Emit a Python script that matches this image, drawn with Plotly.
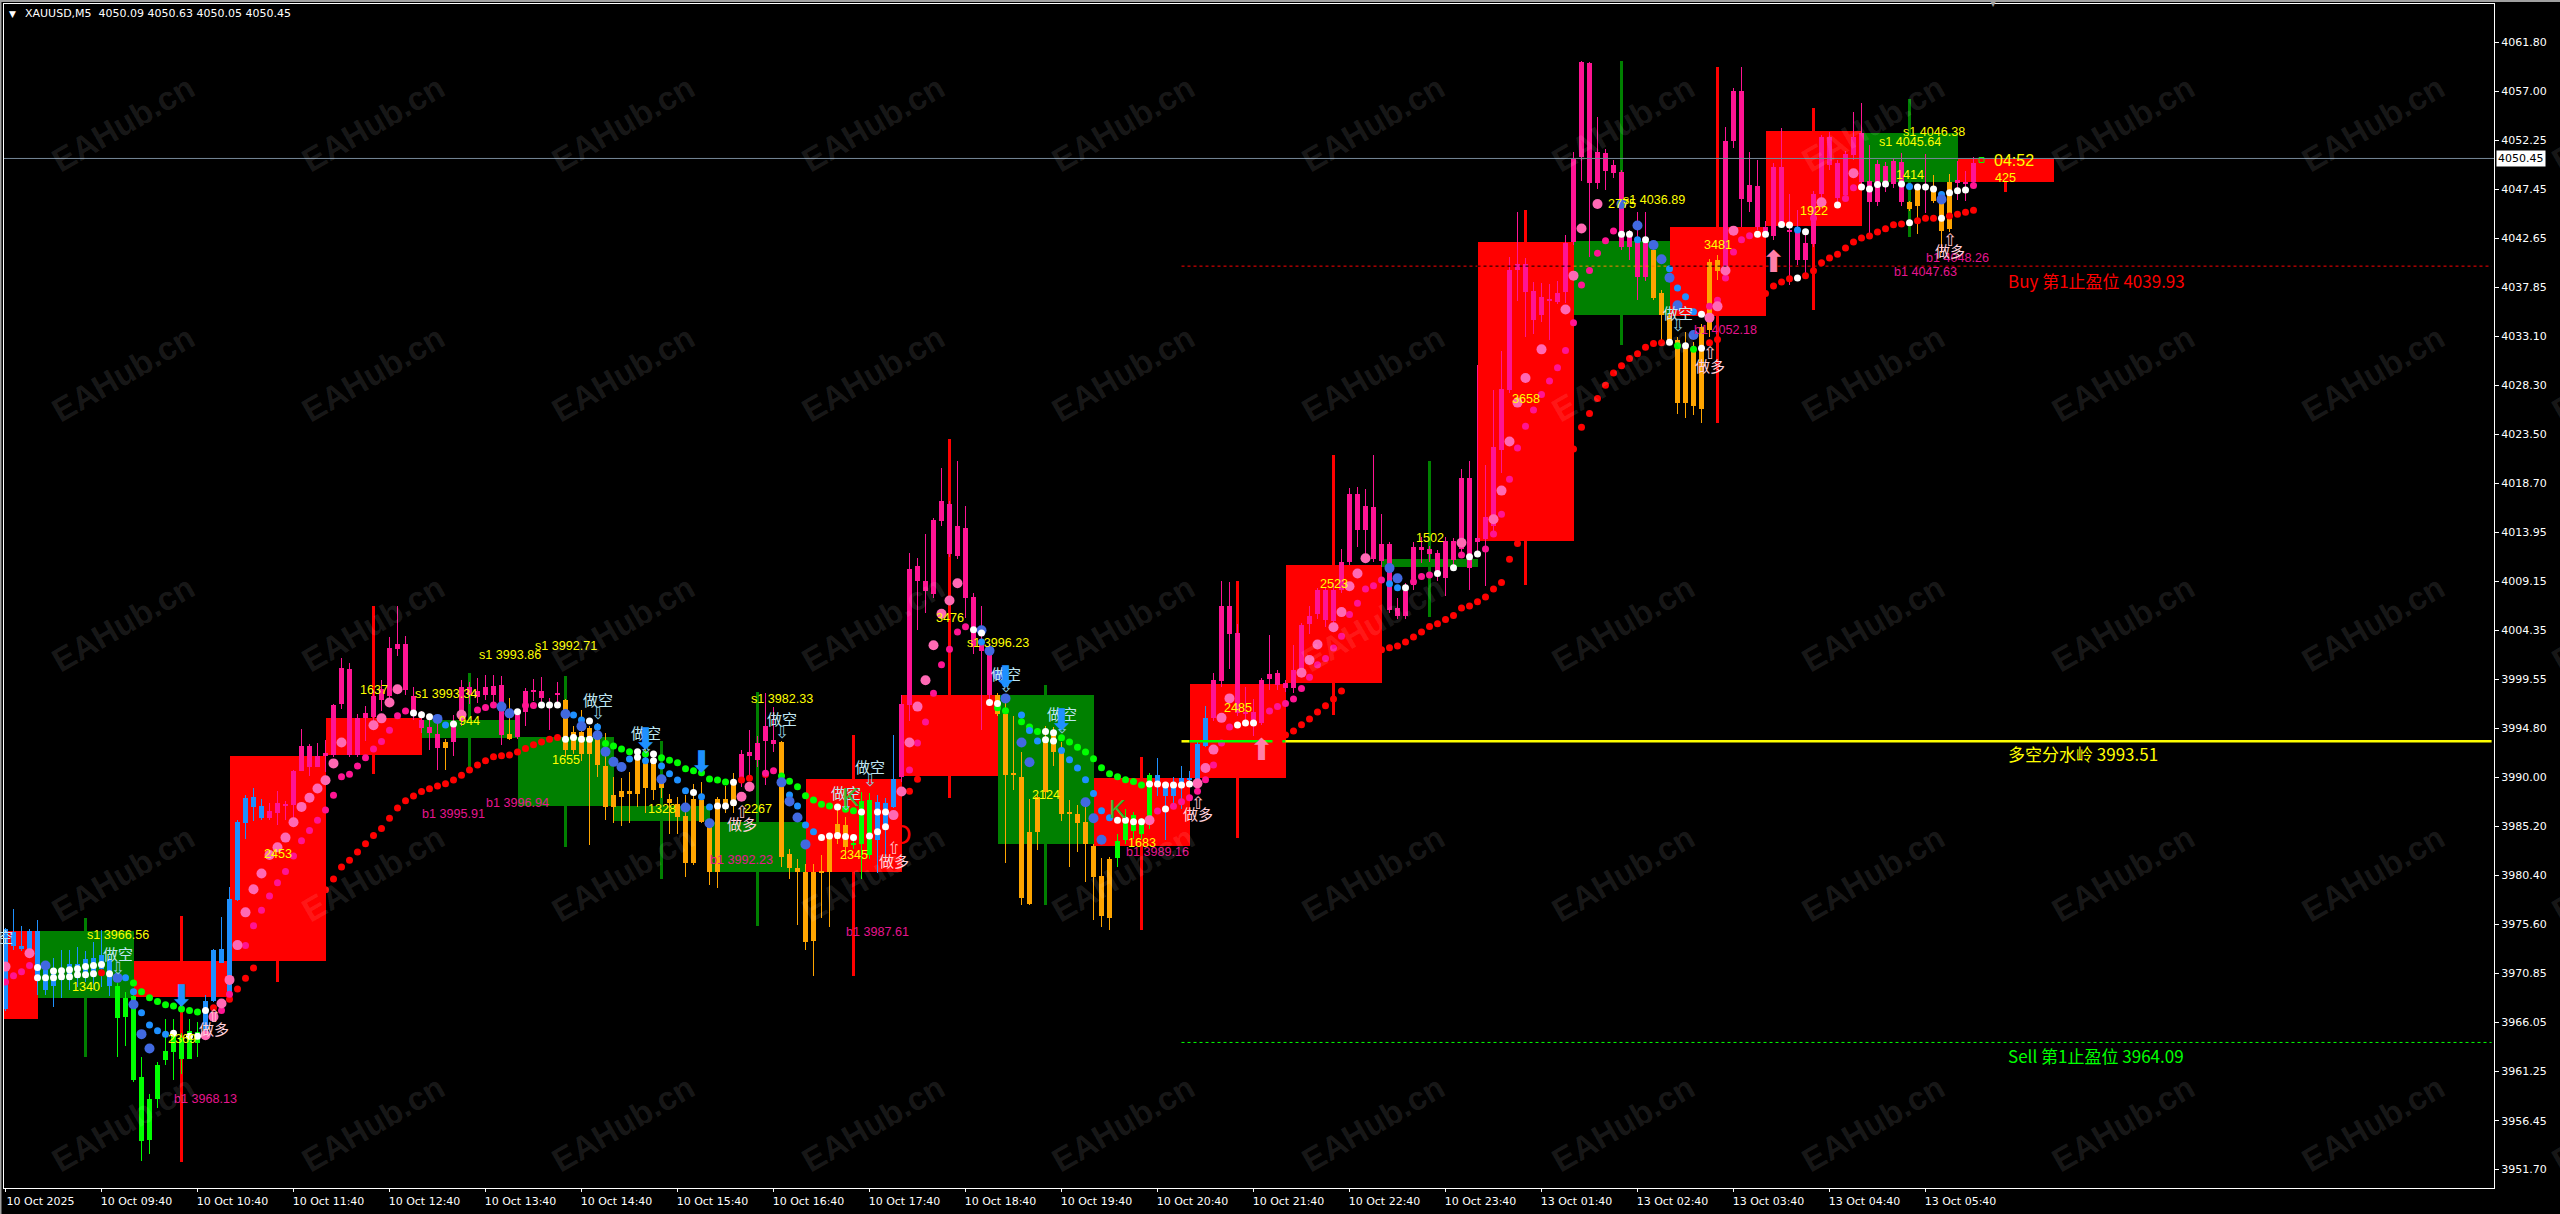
import plotly.graph_objects as go

# ---------- candles (bar index 0..246) ----------
body_top = [
3975.2,3974.9,3973.5,3975.0,3975.0,3971.2,3971.3,3971.3,3971.8,3971.8,
3972.2,3972.3,3972.6,3972.1,3969.6,3968.4,3968.6,3960.7,3958.6,3961.9,
3963.3,3965.1,3964.5,3965.2,3965.1,3968.1,3973.1,3973.2,3978.1,3985.6,
3988.0,3988.1,3987.2,3986.7,3987.5,3987.4,3990.6,3993.1,3993.1,3992.1,
3992.4,3997.05,4000.7,4000.6,3995.75,3996.25,3997.9,3998.6,4002.6,4003.0,
4003.0,3997.9,3995.6,3994.9,3994.2,3993.4,3994.9,3998.8,3998.85,3998.4,
3998.8,3998.9,3999.0,3994.2,3996.1,3998.45,3998.5,3998.45,3997.05,3998.2,
3997.5,3994.4,3994.4,3994.8,3994.1,3991.1,3988.25,3988.65,3988.65,3992.0,
3991.7,3991.5,3989.4,3987.9,3987.4,3986.2,3987.9,3987.8,3985.15,3987.9,
3987.9,3989.2,3992.3,3992.5,3993.3,3995.0,3993.6,3993.4,3982.5,3981.1,
3980.75,3980.75,3980.75,3984.2,3985.4,3985.35,3983.5,3987.7,3987.8,3987.6,
3987.5,3989.8,3997.15,4010.3,4010.6,4009.2,4015.15,4017.0,4016.65,4014.55,
4014.35,4007.65,4003.0,4002.4,3998.0,3996.2,3990.35,3990.0,3984.65,3988.05,
3993.6,3994.3,3992.45,3986.5,3986.4,3985.65,3983.25,3980.35,3982.0,3983.8,
3985.9,3986.3,3985.5,3990.2,3990.2,3989.2,3989.15,3989.9,3989.9,3993.2,
3995.8,3999.5,4006.7,4006.7,4004.1,3996.3,3996.4,3999.5,4000.1,4000.15,
3999.2,4000.5,4004.9,4005.8,4008.25,4008.3,4008.25,4011.0,4017.67,4017.67,
4016.5,4016.4,4012.8,4012.8,4006.55,4008.2,4012.45,4012.45,4012.3,4011.9,
4013.06,4013.1,4019.2,4019.2,4013.4,4015.4,4022.3,4027.9,4039.6,4040.1,
4040.1,4037.5,4036.9,4036.7,4037.3,4042.2,4050.4,4059.9,4059.75,4051.1,
4051.0,4049.8,4049.1,4042.8,4042.74,4042.5,4041.5,4037.26,4035.1,4032.7,
4032.4,4032.05,4034.0,4040.36,4040.5,4052.15,4057.0,4057.0,4047.85,4047.75,
4043.8,4049.65,4049.65,4043.45,4043.5,4042.15,4047.0,4052.5,4052.5,4049.97,
4050.85,4052.57,4052.9,4048.27,4049.9,4049.74,4050.2,4050.1,4046.2,4047.46,
4047.85,4047.46,4046.4,4048.18,4048.34,4048.18,4049.97]
body_bottom = [
3967.4,3973.55,3973.2,3973.1,3970.35,3969.2,3969.6,3970.2,3970.2,3970.35,
3970.8,3970.8,3971.3,3969.6,3966.5,3966.6,3960.4,3954.5,3954.6,3958.6,
3962.4,3963.2,3962.5,3962.5,3964.0,3965.0,3968.1,3971.9,3968.4,3978.0,
3985.5,3987.1,3986.0,3986.0,3986.5,3987.2,3987.3,3990.6,3991.0,3991.0,
3992.1,3992.2,3997.2,3992.2,3992.2,3995.75,3995.9,3997.55,3997.9,4002.5,
3998.5,3996.15,3994.85,3994.3,3992.9,3992.9,3993.4,3995.5,3998.05,3997.8,
3998.05,3998.05,3994.1,3993.75,3993.9,3996.4,3998.35,3997.7,3996.95,3998.0,
3992.65,3992.65,3992.3,3992.3,3991.2,3987.1,3987.1,3988.05,3988.4,3988.4,
3988.9,3988.75,3988.9,3987.45,3986.15,3981.65,3981.6,3985.65,3980.75,3980.75,
3987.0,3987.2,3989.4,3992.1,3991.7,3993.5,3993.25,3982.25,3981.1,3980.7,
3973.9,3974.0,3980.65,3980.75,3984.0,3983.2,3983.4,3983.5,3982.4,3983.9,
3985.4,3987.05,3990.05,3997.1,4009.2,4008.15,4007.9,4015.05,4011.8,4011.6,
4007.5,4002.7,4002.35,3998.0,3996.2,3990.25,3990.25,3978.25,3977.65,3984.65,
3988.55,3992.5,3986.45,3986.45,3985.55,3983.45,3980.25,3976.4,3976.2,3982.1,
3983.9,3984.7,3984.5,3985.5,3989.1,3988.2,3988.2,3989.1,3989.75,3989.25,
3993.1,3995.8,3999.4,4003.95,3996.3,3996.2,3995.3,3995.3,3999.6,3999.0,
3998.75,3998.7,4000.5,4005.0,4005.96,4005.4,4005.3,4008.25,4011.0,4014.14,
4014.2,4011.3,4011.1,4006.3,4005.8,4005.8,4008.75,4012.2,4011.85,4009.76,
4009.5,4011.2,4012.3,4010.44,4013.0,4013.3,4014.5,4022.0,4027.8,4039.6,
4037.4,4034.7,4035.2,4036.55,4036.45,4037.4,4042.3,4050.55,4048.1,4048.1,
4049.2,4049.06,4041.8,4041.8,4038.9,4038.9,4036.8,4035.15,4032.5,4026.6,
4026.6,4026.25,4026.0,4033.7,4039.5,4039.87,4052.15,4046.5,4046.2,4043.8,
4043.3,4042.9,4044.2,4043.3,4040.5,4040.5,4042.1,4047.0,4049.8,4046.6,
4046.87,4050.8,4048.18,4046.2,4046.2,4048.18,4048.0,4046.2,4045.5,4045.8,
4047.7,4046.3,4043.4,4043.55,4048.1,4048.0,4048.18]
candle_high = [
3975.3,3977.1,3975.5,3975.2,3976.05,3971.8,3972.3,3973.1,3973.1,3973.45,
3973.05,3973.9,3975.1,3972.5,3969.9,3969.0,3968.8,3962.7,3959.1,3962.2,
3966.4,3966.4,3965.0,3966.4,3966.1,3968.7,3973.2,3976.3,3979.25,3985.8,
3988.3,3988.9,3987.9,3987.5,3988.7,3987.7,3990.7,3994.7,3993.2,3993.3,
3993.6,3997.2,4001.6,4001.2,3996.2,3997.0,3998.5,3999.5,4003.7,4006.7,
4003.8,3998.8,3996.5,3995.9,3995.25,3993.7,3996.1,3999.5,3999.3,3999.7,
4000.0,4000.0,3999.9,3997.7,3996.3,3998.7,3999.6,3999.8,3997.7,3999.3,
3997.6,3995.0,3996.6,3995.0,3995.25,3994.3,3990.0,3989.9,3990.55,3992.8,
3993.0,3992.0,3990.0,3988.4,3988.1,3988.25,3989.3,3989.55,3985.8,3988.1,
3989.15,3990.4,3992.65,3994.6,3994.0,3998.2,3996.9,3993.5,3983.0,3982.0,
3981.5,3981.5,3982.4,3984.4,3986.8,3986.1,3984.0,3988.6,3988.5,3988.3,
3988.0,3994.1,3998.0,4011.95,4011.45,4013.8,4015.3,4020.2,4017.0,4020.85,
4016.5,4008.0,4006.7,4003.0,3998.2,3997.8,3996.0,3992.45,3987.9,3988.3,
3995.0,3994.95,3993.45,3987.8,3987.3,3987.05,3983.5,3982.1,3982.2,3984.5,
3986.9,3986.6,3986.0,3990.4,3991.9,3989.5,3990.0,3991.1,3990.6,3993.4,
3997.0,4000.2,4009.2,4009.1,4005.0,3998.8,3997.65,3999.7,4003.9,4000.5,
3999.5,4002.9,4005.1,4006.7,4008.5,4008.6,4009.0,4012.3,4018.3,4018.34,
4018.2,4021.44,4015.75,4012.95,4007.5,4009.0,4013.0,4013.46,4012.6,4012.2,
4013.5,4013.4,4020.1,4020.9,4030.3,4020.5,4027.8,4031.6,4040.85,4045.2,
4040.7,4038.4,4038.3,4038.2,4038.5,4042.97,4051.1,4060.0,4059.9,4054.46,
4051.4,4050.3,4049.3,4043.5,4045.2,4045.2,4042.0,4037.6,4035.3,4033.0,
4033.45,4032.5,4034.3,4040.6,4041.0,4053.5,4057.3,4059.35,4051.1,4050.3,
4044.3,4050.0,4053.4,4047.0,4045.4,4043.3,4047.3,4052.7,4053.0,4050.3,
4051.2,4055.0,4055.9,4051.8,4050.3,4050.1,4050.5,4051.0,4046.3,4047.8,
4050.9,4048.8,4046.6,4048.9,4050.2,4049.2,4050.63]
candle_low = [
3967.2,3973.1,3973.06,3972.4,3968.7,3968.7,3967.6,3968.4,3969.2,3969.5,
3970.0,3969.2,3969.5,3968.6,3962.7,3963.7,3960.2,3952.5,3953.2,3957.65,
3961.9,3960.4,3961.0,3962.5,3962.7,3964.65,3968.0,3971.9,3968.4,3977.9,
3984.0,3985.7,3985.8,3985.8,3985.3,3985.8,3985.8,3990.6,3990.1,3991.0,
3990.5,3992.0,3996.7,3992.0,3992.0,3993.5,3995.5,3996.5,3997.5,4001.8,
3998.0,3995.6,3994.3,3992.65,3990.7,3990.7,3992.1,3995.0,3997.2,3997.3,
3997.5,3997.0,3993.15,3993.6,3993.7,3995.0,3997.4,3997.2,3994.6,3997.05,
3992.0,3992.3,3991.6,3983.4,3990.05,3985.8,3985.5,3985.2,3985.5,3987.1,
3986.5,3987.8,3988.0,3984.5,3984.5,3980.25,3981.4,3985.5,3979.45,3979.15,
3986.5,3986.5,3989.0,3989.7,3991.0,3989.25,3992.5,3981.25,3980.1,3975.55,
3973.1,3970.6,3976.2,3975.4,3983.5,3982.0,3983.0,3980.1,3982.0,3980.6,
3982.0,3987.0,3989.5,3995.5,4004.4,4006.05,4007.5,4014.5,4011.5,4011.3,
4005.55,4002.0,3994.6,3997.5,3996.0,3981.6,3988.75,3977.55,3977.5,3982.9,
3988.0,3991.1,3985.7,3981.2,3982.7,3979.8,3976.1,3975.4,3975.1,3981.2,
3983.5,3984.0,3984.0,3984.9,3988.2,3983.9,3987.5,3986.9,3989.0,3988.7,
3993.0,3995.5,3998.8,4000.6,3996.0,3995.5,3994.0,3995.1,3998.5,3998.5,
3998.3,3998.2,4000.0,4004.0,4005.5,4004.7,4005.0,4008.0,4010.7,4012.45,
4011.45,4011.0,4010.5,4006.0,4005.5,4005.5,4008.3,4010.9,4011.0,4009.2,
4007.7,4010.5,4012.0,4008.3,4012.0,4008.65,4013.9,4019.7,4027.5,4036.55,
4033.0,4033.35,4034.5,4032.7,4036.2,4036.3,4042.0,4048.2,4040.85,4047.5,
4047.36,4048.5,4041.5,4040.5,4036.6,4038.5,4036.6,4032.7,4032.3,4025.5,
4025.1,4025.4,4024.56,4033.0,4038.6,4039.5,4051.5,4043.8,4045.2,4043.5,
4042.8,4042.5,4044.0,4038.1,4040.0,4039.2,4041.8,4046.5,4049.3,4046.2,
4046.4,4050.3,4047.8,4043.1,4045.8,4047.2,4047.6,4045.8,4045.3,4043.1,
4045.1,4046.1,4041.2,4043.3,4046.4,4046.3,4048.0]
candle_runs = [(0,13,"blue"),(14,24,"lime"),(25,32,"blue"),(33,54,"pink"),(55,55,"orange"),
               (56,62,"pink"),(63,63,"orange"),(64,69,"pink"),(70,91,"orange"),(92,96,"pink"),
               (97,105,"orange"),(106,108,"lime"),(109,111,"blue"),(112,123,"pink"),
               (124,138,"orange"),(139,143,"lime"),(144,150,"blue"),(151,205,"pink"),
               (206,214,"orange"),(215,237,"pink"),(238,239,"orange"),(240,240,"pink"),
               (241,243,"orange"),(244,246,"pink")]
candle_palette = {"blue":"#1E90FF","lime":"#00FF00","pink":"#FF1493","orange":"#FFA500"}

# ---------- hourly blocks ----------
block_start = list(range(-8, 245, 12))
block_top = [3974.98,3974.98,3972.05,3992.08,3995.75,3995.59,3993.9,3987.18,3985.62,3989.79,3998.03,
             3998.02,3989.9,3999.1,4010.7,4011.28,4042.28,4042.38,4043.75,4053.13,4052.93,4050.4]
block_bottom = [3966.38,3968.46,3968.53,3972.05,3992.17,3993.86,3987.18,3985.72,3980.74,3980.74,3990.15,
                3983.49,3983.29,3989.9,3999.2,4010.54,4013.1,4035.15,4035.08,4043.88,4048.14,4048.14]
block_color = ["r","g","r","r","r","g","g","g","g","r","r","g","r","r","r","g","r","g","r","r","g","r"]
block_high = [3975.0,3976.2,3976.4,3992.1,4006.7,4000.15,3999.9,3993.5,3998.3,3994.1,4023.0,
              3999.0,3992.0,4009.2,4021.5,4020.9,4045.4,4060.0,4059.4,4055.4,4056.3,4050.4]
block_low = [3966.4,3962.7,3952.4,3970.0,3990.3,3990.7,3983.2,3980.1,3975.5,3970.6,3988.0,
             3977.5,3975.1,3984.1,3996.1,4005.7,4008.8,4032.2,4024.6,4035.6,4042.8,4047.2]

# ---------- indicator dots ----------
red_idx = [12,26,28,29,30,31,40,41,42,43,44,45,46,47,48,49,50,51,52,53,54,55,56,57,58,59,60,61,62,63,64,65,66,67,68,69,
           92,93,95,113,114,160,161,162,163,164,165,166,167,172,173,174,175,176,177,178,179,180,181,182,183,184,185,186,187,
           188,189,196,197,198,199,200,201,202,203,204,205,206,207,213,214,220,221,222,223,225,226,227,228,229,230,231,232,
           233,234,235,236,237,239,240,241,243,244,245,246]
red_price = [3970.9,3967.48,3968.3,3969.3,3970.35,3971.37,3979,3980.06,3981.23,3981.9,3982.7,3983.5,3984.3,3985,3986,3987,
             3987.7,3988.17,3988.6,3988.87,3989.14,3989.37,3989.73,3990.2,3990.7,3991.2,3991.6,3992,3992.1,3992.17,3992.47,
             3992.8,3993.17,3993.44,3993.7,3993.87,3989.73,3989.9,3990.27,3988.64,3989.8,3994.12,3994.52,3995.13,3995.7,
             3996.37,3996.98,3997.65,3998.43,4002.46,4002.66,4002.83,4003.2,4003.7,4004.2,4004.72,4005,4005.4,4005.8,
             4006.53,4006.73,4007.14,4007.6,4008.4,4009.02,4011.3,4012.84,4022.06,4024.2,4025.54,4027,4028.3,4029.5,4030.2,
             4030.9,4031.37,4032,4032.38,4032.44,4032.44,4032.77,4037.26,4038,4038.37,4038.7,4039,4039.48,4040.26,4040.72,
             4041.1,4041.7,4042.28,4042.67,4042.87,4043.26,4043.58,4043.97,4044.04,4044.37,4044.6,4044.6,4044.82,4045,
             4045.2,4045.4]
deeppink_idx = [0,1,2,3,27,28,30,31,32,33,34,35,36,37,38,39,40,41,42,43,44,45,46,47,48,49,50,59,60,61,65,66,95,96,113,114,
                115,116,117,118,119,120,144,146,147,148,149,150,151,152,153,158,159,160,161,162,163,164,165,166,167,168,169,
                170,171,172,176,177,178,182,185,186,187,188,189,190,191,192,193,194,195,196,197,198,199,200,201,213,214,215,
                216,217,218,226,230,231,246]
deeppink_price = [3970,3970.6,3971,3971.6,3967.2,3968.8,3973.55,3975.5,3977,3978.4,3979.7,3980.8,3982.3,3983.8,3984.8,3985.8,
                  3986.8,3988.25,3990.05,3990.3,3991.1,3991.9,3992.75,3993.5,3994.6,3996,3996.47,3996.57,3996.8,3997.05,
                  3997,3997,3990.4,3990.64,3990.7,3993.35,3995.4,3998.2,4001,4002.5,4004.2,4004.7,3986.7,3987.16,3987.6,3988,
                  3988.64,3989.75,3991.2,3993.35,3994.9,3996.47,3996.9,3997.2,3997.65,3998.66,3999.77,4001,4001.6,4002.63,
                  4003.77,4005.9,4007,4008.4,4008.7,4009.26,4009.1,4009.6,4009.76,4011.7,4012.3,4013.75,4015.7,4019.1,4022.16,
                  4024.3,4025.87,4027.4,4028.7,4030,4031.7,4034.4,4038.1,4039.5,4041.2,4042.4,4043.36,4036,4036.6,4038.76,
                  4041.3,4042.5,4042.9,4044.6,4046.55,4047.6,4047.8]
lime_idx = [16,17,18,19,20,21,22,23,24,75,76,77,78,80,82,83,84,85,86,87,88,89,90,97,98,99,100,101,102,103,105,106,124,125,
            127,128,129,132,133,134,135,136,137,138,139,140,141,142,209,211]
lime_price = [3969.9,3969.05,3968.46,3968.08,3967.78,3967.65,3967.36,3967.2,3967.06,3993.3,3993.05,3992.76,3992.5,3992.27,
              3991.9,3991.67,3991.42,3990.83,3990.64,3990.44,3989.82,3989.73,3989.53,3990.12,3989.6,3989.07,3988.2,3987.77,
              3987.37,3987.2,3986.87,3986.73,3996.78,3996.5,3995.43,3994.9,3994.46,3993.85,3993.45,3992.94,3992.47,3991.8,
              3990.92,3990.35,3990.05,3989.75,3989.58,3989.24,4032.15,4031.82]
blue_idx = [15,16,17,18,19,20,55,71,72,74,78,80,82,83,84,85,87,88,98,99,100,101,122,125,127,128,129,132,133,134,135,136,137,
            138,173,174,204,208,209,210,211,224,238,242]
blue_price = [3970.4,3969.05,3967,3965.8,3965.24,3964.9,3995.1,3996.07,3995.6,3994.9,3991.77,3991.6,3991.1,3990.34,3989.73,
              3988.67,3988.1,3987.1,3988.27,3987.2,3985.33,3984.67,4003.2,3999.13,3996.07,3994.56,3993.55,3992.6,3991.7,
              3990.9,3989.75,3988.4,3986.72,3986.05,4008.9,4008.5,4042.5,4039.67,4037.8,4036.94,4035.47,4043.45,4047.7,4046.94]
hotpink_idx = [0,3,25,26,27,28,29,30,31,32,33,34,35,36,37,38,39,40,41,42,46,47,48,49,57,92,93,111,112,113,114,115,116,117,118,
               119,143,149,150,151,152,153,162,163,164,166,167,168,169,170,182,186,187,188,189,190,192,195,196,197,199,213,
               214,215,216,227,231]
hotpink_price = [3971.5,3972.8,3964.8,3966.6,3967.9,3970.2,3973.6,3976.8,3979.05,3980.6,3982.4,3983.15,3984.1,3985.6,3987.1,
                 3988,3988.9,3989.7,3991.35,3993.4,3995.07,3995.75,3997.3,3998.6,3996.1,3988.1,3989.07,3986.3,3988.6,3993.4,
                 3996.9,3999.47,4002.9,4005.96,4007.27,4008.95,3985.8,3989.4,3990.9,3992.7,3995.8,3997.7,4000.2,4001.45,
                 4002.97,4004.65,4006.13,4008.65,4009.9,4011.4,4012.9,4015.2,4018,4022.8,4026.6,4029,4031.8,4035.7,4039,
                 4043.6,4046,4034.9,4036,4039.5,4043.4,4046.16,4049]
royal_idx = [5,14,16,17,18,54,62,63,70,72,74,75,76,77,82,85,88,97,98,99,100,122,123,124,125,127,128,135,136,137,173,174,202,
             204,206,207,208,209,211,242]
royal_price = [3971.6,3970.4,3967.8,3964.9,3963.5,3995.7,3996.9,3996.24,3996.17,3994.97,3994.1,3992.5,3991.5,3991,3989.8,
               3987.05,3985.5,3989.5,3987.64,3986.07,3983.44,4004.35,4002.36,4000,3997.7,3993.4,3991.46,3987.56,3986,3983.9,
               4010.43,4009.43,4046,4043.9,4042,4040.6,4038.8,4036.1,4033.2,4046.45]
white_idx = [4,6,7,8,9,10,11,12,4,5,6,7,8,9,10,11,13,21,23,24,25,51,52,53,56,64,67,68,69,70,71,72,73,73,79,79,81,81,86,89,90,
             91,91,102,103,104,105,106,104,107,108,109,110,110,109,121,122,123,124,130,131,130,131,139,140,141,142,143,144,
             145,146,147,148,145,154,155,156,175,179,181,183,184,202,203,205,208,210,212,212,219,220,222,223,224,225,229,
             232,233,234,235,237,239,240,241,243,244,245,238,242]
white_price = [3971.4,3971.07,3971.1,3971.2,3971.3,3971.5,3971.6,3971.7,3970.4,3970.4,3970.4,3970.5,3970.5,3970.7,3970.7,
               3970.8,3970.8,3965,3964.7,3964.7,3967.2,3996.27,3996.1,3995.9,3995.2,3996.4,3997.05,3997.05,3997.05,3993.7,
               3993.87,3993.7,3993.7,3995.5,3992.5,3991.94,3992.27,3991.6,3988.5,3987.2,3987.2,3989.5,3987.5,3984.1,3984.25,
               3984.3,3984.2,3984.1,3987.1,3986.6,3984.25,3986.6,3986.6,3985.17,3984.67,4004.4,4004.1,3997.3,3997.2,3994.46,
               3994.35,3993.65,3993.55,3985.8,3985.8,3985.64,3985.64,3989.34,3989.34,3989.24,3989.24,3989.24,3989.34,3986.9,
               3995.1,3995.3,3995.3,4008.5,4009.9,4010.47,4011.54,4011.8,4043.05,4043.05,4042.5,4032.5,4032.15,4035.24,
               4031.9,4043.05,4043.05,4044,4043.94,4038.76,4043.3,4045.9,4047.66,4047.46,4047.9,4047.95,4047.95,4047.66,
               4047.66,4047.46,4047.1,4047.3,4047.36,4044.17,4044.62]

# ---------- text ----------
yellow_text = ["s1 3966.56","1340","2453","2369","1637","s1 3993.34","944","s1 3993.86","s1 3992.71","1655","1328","2267",
               "s1 3982.33","2345","3476","s1 3996.23","2124","1683","2485","2523","1502","3658","2775","s1 4036.89","3481",
               "1922","s1 4045.64","s1 4046.38","1414","425"]
yellow_idx = [14,10,34,22,46,55,58,63,70,70,82,94,97,106,118,124,130,142,154,166,178,190,202,206,214,226,238,241,238,250]
yellow_price = [3974.6,3969.5,3982.5,3964.4,3998.5,3998.1,3995.5,4001.9,4002.8,3991.7,3986.9,3986.9,3997.64,3982.4,4005.56,
                4003.1,3988.27,3983.6,3996.74,4008.86,4013.36,4027,4046,4046.35,4042,4045.3,4052.1,4053,4048.8,4048.5]
b1_text = ["b1 3968.13","b1 3995.91","b1 3996.94","b1 3992.23","b1 3987.61","b1 3989.16","b1 4052.18","b1 4047.63","b1 4048.26"]
b1_idx = [25,56,64,92,109,144,215,240,244]
b1_price = [3958.57,3986.37,3987.5,3981.9,3974.84,3982.7,4033.7,4039.35,4040.7]
short_idx = [14,74,80,97,108,105,125,132,209]
short_price = [3972.8,3997.6,3994.4,3995.75,3991,3988.5,4000.1,3996.24,4035.4]
short_arrow_price = [3971.4,3996.3,3993,3994.45,3989.7,3987.4,3998.9,3994.9,4034.17]
long_idx = [26,92,111,149,213,243]
long_price = [3965.47,3985.5,3981.84,3986.45,4030.26,4041.5]
long_arrow_price = [3966.67,3986.63,3983.1,3987.5,4031.4,4042.5]
down_arrow_idx = [22,80,87,125,132]
down_arrow_price = [3968.7,3993.8,3991.5,3999.84,3995.63]
up_arrow_idx = [157,221]
up_arrow_price = [3992.7,4040.36]
level_labels = ["Buy 第1止盈位 4039.93","多空分水岭 3993.51","Sell 第1止盈位 3964.09"]
level_label_price = [4038.57,3992.3,3962.77]
level_values = [4039.93,3993.51,3964.09]
current_price = 4050.45
header = "XAUUSD,M5  4050.09 4050.63 4050.05 4050.45"
x_labels = ["10 Oct 2025","10 Oct 09:40","10 Oct 10:40","10 Oct 11:40","10 Oct 12:40","10 Oct 13:40","10 Oct 14:40",
            "10 Oct 15:40","10 Oct 16:40","10 Oct 17:40","10 Oct 18:40","10 Oct 19:40","10 Oct 20:40","10 Oct 21:40",
            "10 Oct 22:40","10 Oct 23:40","13 Oct 01:40","13 Oct 02:40","13 Oct 03:40","13 Oct 04:40","13 Oct 05:40"]
y_ticks = [4061.80,4057.00,4052.25,4047.45,4042.65,4037.85,4033.10,4028.30,4023.50,4018.70,4013.95,4009.15,4004.35,3999.55,
           3994.80,3990.00,3985.20,3980.40,3975.60,3970.85,3966.05,3961.25,3956.45,3951.70]

# ---------- figure ----------
W,H = 2560,1214
L,R,T,B = 4,66,4,26
plot_w, plot_h = W-L-R, H-T-B
idx = list(range(247))
colors = [None]*247
for a,b,c in candle_runs:
    for i in range(a,b+1):
        colors[i] = candle_palette[c]
fig = go.Figure()
RED,GREEN = "#FF0000","#008000"
bc = [RED if c=="r" else GREEN for c in block_color]
# hourly block bodies and wicks
fig.add_trace(go.Bar(x=[k+6 for k in block_start],
                     y=[t-b for t,b in zip(block_top,block_bottom)], base=block_bottom,
                     width=12, marker=dict(color=bc,line_width=0)))
fig.add_trace(go.Bar(x=[k+6 for k in block_start],
                     y=[t-b for t,b in zip(block_high,block_low)], base=block_low,
                     width=0.375, marker=dict(color=bc,line_width=0)))
# candles
fig.add_trace(go.Bar(x=idx, y=[max(h-l,0.1) for h,l in zip(candle_high,candle_low)], base=candle_low,
                     width=0.125, marker=dict(color=colors,line_width=0)))
fig.add_trace(go.Bar(x=idx, y=[max(t-b,0.1) for t,b in zip(body_top,body_bottom)], base=body_bottom,
                     width=0.625, marker=dict(color=colors,line_width=0)))
# dots
for xs,ys,c,s in [(red_idx,red_price,RED,7),(deeppink_idx,deeppink_price,"#FF1493",7),(lime_idx,lime_price,"#00FF00",7),
                  (blue_idx,blue_price,"#1E90FF",7),(hotpink_idx,hotpink_price,"#FF69B4",10),(royal_idx,royal_price,"#4169E1",10),
                  (white_idx,white_price,"#FFFFFF",7)]:
    fig.add_trace(go.Scatter(x=xs,y=ys,mode="markers",marker=dict(color=c,size=s,line_width=0)))
# last-bar marker
fig.add_trace(go.Scatter(x=[247],y=[4050.3],mode="markers",
                         marker=dict(symbol="square-open",color="#00FF00",size=5,line_width=1)))

x0,x1 = -0.1875, 311.0625
def hline(a,b,y,color,width=1,dash="solid"):
    fig.add_shape(type="line",xref="x",yref="y",x0=a,x1=b,y0=y,y1=y,line=dict(color=color,width=width,dash=dash),layer="above")
hline(x0,x1,current_price,"#778899",1)
buy,mid,sell = level_values
d = "3px,3px"
hline(147,184,buy,RED,1,d); hline(184,196,buy,"#000000",1,d); hline(196,208,buy,"#FF8000",1,d)
hline(208,220,buy,"#000000",1,d); hline(220,x1-0.3,buy,RED,1,d)
hline(147,148,mid,"#FFFF00",2.5); hline(148,158.4,mid,"#00FF00",2.5); hline(158.4,159.6,mid,"#FF0000",2.5)
hline(159.6,160,mid,"#00FF00",2.5); hline(160,x1-0.3,mid,"#FFFF00",2.5)
hline(147,x1-0.3,sell,"#00FF00",1,d)

ann = []
def text(x,y,s,color,size,family="Liberation Sans",**kw):
    kw.setdefault("xanchor","center")
    ann.append(dict(x=x,y=y,xref="x",yref="y",text=s,showarrow=False,yanchor="middle",font=dict(color=color,size=size,family=family),**kw))
for s,x,y in zip(yellow_text,yellow_idx,yellow_price):
    text(x,y,s,"#FFFF00",12.6)
for s,x,y in zip(b1_text,b1_idx,b1_price):
    text(x,y,s,"#E6158F",12.6)
CJK = "Noto Sans CJK SC"
for x,y,ya in zip(short_idx,short_price,short_arrow_price):
    text(x,y,"做空","#BFE6F2",15,CJK)
    text(x,ya,"⇩","#8FC7DE",17,"DejaVu Sans")
for x,y,ya in zip(long_idx,long_price,long_arrow_price):
    text(x,y,"做多","#FFD0DC",15,CJK)
    text(x,ya,"⇧","#FFC0CB",17,"DejaVu Sans")
text(0,3974.4,"空","#BFE6F2",15,CJK)
for x,y in zip(down_arrow_idx,down_arrow_price):
    text(x,y,"⬇","#1E90FF",30,"DejaVu Sans")
for x,y in zip(up_arrow_idx,up_arrow_price):
    text(x,y,"⬆","#FF7FA8",30,"DejaVu Sans")
text(139,3986.9,"K","#33BB33",26)
text(105.7,3988.1,"K","#33BB33",26)
text(112,3984.4,"D",RED,27)
text(251,4050.3,"04:52","#FFFF00",16)
for s,y,c in zip(level_labels,level_label_price,[RED,"#FFFF00","#00FF00"]):
    text(250,y,s,c,17,"Noto Sans CJK SC",xanchor="left")
# header
ann.append(dict(x=(23-L)/plot_w,y=1-(14-T)/plot_h,xref="paper",yref="paper",text=header,showarrow=False,xanchor="left",yanchor="middle",
                font=dict(color="#FFFFFF",size=11,family="DejaVu Sans")))
ann.append(dict(x=(12-L)/plot_w,y=1-(14-T)/plot_h,xref="paper",yref="paper",text="▼",showarrow=False,xanchor="center",yanchor="middle",
                font=dict(color="#FFFFFF",size=9,family="DejaVu Sans")))
ann.append(dict(x=(1994-L)/plot_w,y=1+1/plot_h,xref="paper",yref="paper",text="▼",showarrow=False,xanchor="center",yanchor="middle",
                font=dict(color="#A0A0A0",size=8,family="DejaVu Sans")))
# current price tag
ann.append(dict(x=1,y=current_price,xref="paper",yref="y",text=f"{current_price:.2f}",showarrow=False,xanchor="left",yanchor="middle",xshift=2,
                bgcolor="#FFFFFF",borderpad=1,font=dict(color="#000000",size=11,family="DejaVu Sans")))
# watermark
for row in range(5):
    for col in range(11):
        px,py = 123+250*col, 123+250*row
        ann.append(dict(x=(px-L)/plot_w,y=1-(py-T)/plot_h,xref="paper",yref="paper",text="<b>EAHub.cn</b>",showarrow=False,
                        xanchor="center",yanchor="middle",textangle=-30,
                        font=dict(color="rgba(255,255,255,0.105)",size=33,family="Liberation Sans")))
# outer window edge
for sh in [dict(x0=-L/plot_w,x1=-L/plot_w+1.5/plot_w,y0=-B/plot_h,y1=1+T/plot_h),
           dict(x0=-L/plot_w,x1=1+R/plot_w,y0=1+T/plot_h-2/plot_h,y1=1+T/plot_h)]:
    fig.add_shape(type="rect",xref="paper",yref="paper",fillcolor="#A0A0A0",line_width=0,layer="above",**sh)

axis_font = dict(color="#FFFFFF",size=11,family="DejaVu Sans")
fig.update_layout(
    width=W,height=H,autosize=False,margin=dict(l=L,r=R,t=T,b=B,pad=0),
    paper_bgcolor="#000000",plot_bgcolor="#000000",barmode="overlay",bargap=0,showlegend=False,hovermode=False,
    annotations=ann,
    xaxis=dict(range=[x0,x1],tickmode="array",tickvals=[i*12 for i in range(len(x_labels))],ticktext=x_labels,
               showgrid=False,zeroline=False,showline=True,mirror=True,linecolor="#FFFFFF",linewidth=1,
               ticks="outside",ticklen=3,tickcolor="#FFFFFF",tickfont=axis_font,ticklabelshift=35,ticklabelstandoff=0),
    yaxis=dict(range=[3949.87,4065.54],side="right",tickmode="array",tickvals=y_ticks,ticktext=[f"{v:.2f}" for v in y_ticks],
               showgrid=False,zeroline=False,showline=True,mirror=True,linecolor="#FFFFFF",linewidth=1,
               ticks="outside",ticklen=4,tickcolor="#FFFFFF",tickfont=axis_font),
)
fig.write_html("out.html",config={"displayModeBar":False},
               post_script="document.body.style.margin='0';document.body.style.background='#000';document.documentElement.style.overflow='hidden';")
